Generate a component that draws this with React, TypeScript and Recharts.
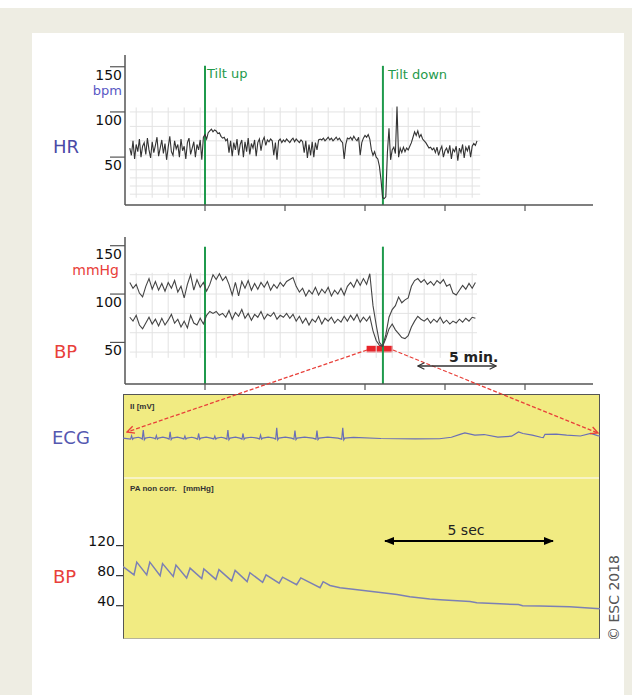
import React from 'react';
import { LineChart, Line, XAxis, YAxis, ReferenceLine, ReferenceArea } from 'recharts';

const FONT = '"DejaVu Sans", Verdana, sans-serif';
const GREEN = '#1f9a4c';
const RED = '#e8403a';
const AXIS = '#555';

// HR trend (bpm), one reading every 0.1 min starting at 0.3 min
const hrStart = 0.3;
const hrStep = 0.1;
const hrValues = [
  60, 52, 68, 48, 64, 56, 70, 50, 62, 66,
  53, 71, 58, 49, 67, 55, 63, 72, 51, 60,
  69, 54, 65, 47, 61, 73, 56, 52, 68, 59,
  64, 50, 70, 57, 62, 48, 66, 71, 53, 60,
  67, 50, 64, 58, 69, 47, 72, 75,
  70, 77, 79, 81, 78, 80, 79, 76, 77, 73, 71, 72, 68, 70,
  55, 68, 51, 66, 58, 70, 52, 64, 69, 50,
  67, 56, 71, 53, 65, 60, 69, 51, 66, 70,
  57, 68, 72, 63, 69, 67, 70, 68,
  52, 66, 47, 68, 70, 66, 69,
  67, 70, 68, 66, 69, 71, 67, 70, 68, 66, 69, 67,
  55, 68, 49, 64, 52, 67, 50, 66, 58, 69, 70,
  69, 71, 68, 70, 72, 69, 71, 68,
  70, 72, 69, 71, 68, 66, 48, 64, 71, 70, 72, 69, 73,
  70, 68, 72, 52, 66, 71, 74, 72, 75, 70,
  58, 52, 56, 50, 48, 40, 25,
  5, 4, 6, 55, 82, 47, 58, 61, 54, 106,
  50, 60, 55, 61, 56, 60, 58, 62, 66, 72,
  78, 74, 79, 72, 75, 70, 68, 66, 63, 60,
  61, 58,
  60, 55, 61, 52, 58, 62, 50, 57, 60, 54,
  63, 48, 59, 56, 62, 46, 60, 55, 64, 49,
  61, 57, 63, 50,
  62, 65, 63, 68,
];

// BP trend (mmHg), systolic and diastolic every 0.2 min starting at 0.3 min
const bpStart = 0.3;
const bpStep = 0.2;
const sbpValues = [
  112, 106, 110, 101, 97, 108, 116, 105, 113, 104,
  111, 103, 112, 106, 114, 102, 108, 96, 110, 120,
  104, 115, 107, 112, 103, 110, 120, 115, 121, 114,
  118, 110, 99, 112, 98, 113, 106, 114, 104, 111,
  105, 112, 107, 113, 104, 110, 106, 112, 108, 113,
  115, 117, 108, 102, 106, 98, 104, 100, 107, 99,
  105, 101, 107, 98, 104, 100, 106, 99, 108, 112,
  107, 115, 109, 116, 110, 121, 88, 68, 50, 46,
  58, 76, 84, 88, 97, 91, 94, 96, 108, 114,
  116, 112, 115, 110, 113, 109, 114, 111, 115, 108,
  110, 101, 99, 104, 109, 105, 111, 106, 112,
];
const dbpValues = [
  76, 72, 78, 68, 64, 70, 76, 69, 74, 67,
  75, 68, 73, 79, 70, 74, 66, 72, 65, 78,
  70, 68, 75, 69, 78, 82, 80, 82, 78, 80,
  76, 83, 74, 81, 77, 84, 75, 80, 73, 79,
  76, 82, 74, 79, 77, 81, 74, 78, 76, 80,
  75, 79, 72, 77, 70, 75, 68, 74, 71, 77,
  69, 75, 72, 76, 70, 74, 71, 77, 72, 78,
  73, 79, 71, 76, 72, 77, 62, 52, 47, 46,
  54, 64, 69, 63, 59, 55, 54, 57, 66, 72,
  77, 74, 72, 75, 70, 74, 71, 76, 70, 73,
  69, 72, 70, 74, 71, 75, 72, 76, 75,
];

const tiltUp = 5;
const tiltDown = 16.12;
const minuteTicks = [5, 10, 15, 20, 25];
const hrTicks = [50, 100, 150];
const bpTicks = [50, 100, 150];
const gridMinutes = [0.7, 1.7, 2.7, 3.7, 4.7, 5.7, 6.7, 7.7, 8.7, 9.7, 10.7, 11.7, 12.7, 13.7, 14.7, 15.7, 16.7, 17.7, 18.7, 19.7, 20.7, 21.7];
const hrGridLevels = [100, 84, 68, 52, 36, 27, 18, 9];
const bpGridLevels = [120, 100, 80, 60, 40];
const zoomWindow = [15.1, 16.75];

// zoomed window, time in seconds: ECG lead II (mV) and arterial pressure (mmHg)
const ecgTrace = [
  [0, 0], [0.22, -0.05], [0.25, 0.11], [0.28, -0.06], [0.31, 0], [0.45, 0.04], [0.52, 0],
  [0.56, -0.05], [0.59, 0.38], [0.62, -0.08], [0.65, 0], [0.78, 0.04], [0.9, 0],
  [0.94, -0.04], [0.97, 0.12], [1.0, -0.05], [1.03, 0], [1.16, 0.05], [1.28, 0],
  [1.34, -0.05], [1.37, 0.3], [1.4, -0.07], [1.43, 0], [1.58, 0.05], [1.7, 0],
  [1.77, -0.04], [1.8, 0.1], [1.83, -0.05], [1.86, 0], [2.0, 0.04], [2.1, 0],
  [2.17, -0.05], [2.2, 0.22], [2.23, -0.06], [2.26, 0], [2.42, 0.05], [2.56, 0],
  [2.64, -0.04], [2.67, 0.1], [2.7, -0.05], [2.73, 0], [2.86, 0.04], [2.96, 0],
  [3.02, -0.05], [3.05, 0.38], [3.08, -0.08], [3.11, 0], [3.27, 0.05], [3.4, 0],
  [3.46, -0.05], [3.49, 0.22], [3.52, -0.06], [3.55, 0], [3.72, 0.04], [3.9, 0],
  [3.97, -0.04], [4.0, 0.14], [4.03, -0.05], [4.06, 0], [4.22, 0.05], [4.38, 0],
  [4.44, -0.05], [4.47, 0.49], [4.5, -0.08], [4.53, 0], [4.72, 0.05], [4.9, 0],
  [4.97, -0.05], [5.0, 0.36], [5.03, -0.07], [5.06, 0], [5.28, 0.05], [5.52, 0],
  [5.61, -0.05], [5.64, 0.36], [5.67, -0.07], [5.7, 0], [5.95, 0.05], [6.25, 0],
  [6.36, -0.05], [6.39, 0.49], [6.42, -0.08], [6.45, 0], [6.7, 0.03], [7.5, -0.02],
  [8.5, -0.04], [9.2, -0.03], [9.55, 0.04], [9.8, 0.18], [9.94, 0.25], [10.23, 0.14],
  [10.5, 0.17], [10.9, 0.05], [11.3, 0.09], [11.5, 0.29], [11.63, 0.22], [11.9, 0.14],
  [12.15, 0.04], [12.22, 0.02], [12.27, 0.18], [12.6, 0.19], [12.9, 0.14], [13.3, 0.1],
  [13.6, 0.22], [13.8, 0.12], [13.87, 0.1],
];
const abpTrace = [
  [0, 92], [0.32, 81], [0.4, 98], [0.69, 81], [0.78, 98], [1.08, 80], [1.15, 96],
  [1.46, 79], [1.54, 94], [1.85, 77], [1.95, 90], [2.29, 76], [2.35, 89], [2.7, 75],
  [2.79, 88], [3.16, 73], [3.26, 87], [3.61, 72], [3.69, 84], [4.06, 71], [4.16, 81],
  [4.54, 70], [4.64, 78], [5.05, 68], [5.17, 77], [5.73, 64], [5.82, 72], [6.02, 67],
  [6.31, 64], [6.69, 62], [7.24, 59], [7.97, 55], [8.34, 52], [8.92, 49], [9.22, 48],
  [10.09, 45.5], [10.29, 44], [10.96, 42.5], [11.5, 41.5], [11.62, 40], [12.12, 39.5],
  [12.99, 38.5], [13.87, 36],
];
const abpTicks = [40, 80, 120];

const hrData = hrValues.map((hr, i) => ({ t: hrStart + i * hrStep, hr }));
const bpData = sbpValues.map((sbp, i) => ({ t: bpStart + i * bpStep, sbp, dbp: dbpValues[i] }));
const ecgData = ecgTrace.map(([t, mv]) => ({ t, mv }));
const abpData = abpTrace.map(([t, p]) => ({ t, p }));

const noTick = () => <g />;

function OverTick({ x, y, payload }: any) {
  return (
    <g>
      <line x1={x - 15} x2={x} y1={y} y2={y} stroke={AXIS} strokeWidth={1.2} />
      <text x={x - 3} y={y + 13} textAnchor="end" fontSize={14} fill="#111" fontFamily={FONT}>
        {payload.value}
      </text>
    </g>
  );
}

function BaseTick({ x, y, payload }: any) {
  return (
    <g>
      <line x1={x - 7} x2={x} y1={y} y2={y} stroke="#333" strokeWidth={1.2} />
      <text x={x - 8} y={y} textAnchor="end" fontSize={14} fill="#111" fontFamily={FONT}>
        {payload.value}
      </text>
    </g>
  );
}

const gridStroke = '#e3e3e3';

export default function App() {
  return (
    <div style={{ position: 'absolute', left: 0, top: 0, width: 632, height: 695, background: '#fff', overflow: 'hidden' }}>
      <div style={{ position: 'absolute', left: 0, top: 8, width: 632, height: 687, background: '#eeede3' }} />
      <div style={{ position: 'absolute', left: 32, top: 33, width: 592, height: 662, background: '#fff' }} />
      <div
        style={{
          position: 'absolute', left: 123, top: 394, width: 477, height: 245, boxSizing: 'border-box',
          background: '#f1eb82', borderTop: '1.5px solid #555', borderLeft: '1.5px solid #555',
          borderRight: '1.5px solid #555', borderBottom: '1.5px solid #b5b39a',
        }}
      />
      <div style={{ position: 'absolute', left: 124, top: 477, width: 475, height: 2, background: '#f7f3c4' }} />

      {/* HR trend */}
      <div style={{ position: 'absolute', left: 0, top: 0 }}>
        <LineChart width={632} height={215} data={hrData} margin={{ top: 55, right: 39, bottom: 0, left: 0 }}>
          <XAxis type="number" dataKey="t" domain={[0, 29.25]} allowDataOverflow ticks={minuteTicks} tick={noTick}
            tickSize={6} height={10} axisLine={{ stroke: AXIS, strokeWidth: 1.5 }} tickLine={{ stroke: AXIS, strokeWidth: 1.2 }} />
          <YAxis type="number" domain={[-3, 163]} allowDataOverflow ticks={hrTicks} interval={0} tick={<OverTick />}
            width={125} tickSize={0} tickMargin={0} tickLine={false} axisLine={{ stroke: AXIS, strokeWidth: 1.5 }} />
          {gridMinutes.map((m) => (
            <ReferenceLine key={'v' + m} segment={[{ x: m, y: 5 }, { x: m, y: 105 }]} stroke={gridStroke} />
          ))}
          {hrGridLevels.map((v) => (
            <ReferenceLine key={'h' + v} segment={[{ x: 0.3, y: v }, { x: 22.2, y: v }]} stroke={gridStroke} />
          ))}
          <ReferenceLine segment={[{ x: tiltUp, y: -3 }, { x: tiltUp, y: 151 }]} stroke={GREEN} strokeWidth={2} />
          <ReferenceLine segment={[{ x: tiltDown, y: -3 }, { x: tiltDown, y: 151 }]} stroke={GREEN} strokeWidth={2} />
          <Line type="linear" dataKey="hr" stroke="#333" strokeWidth={1.1} dot={false} isAnimationActive={false} />
        </LineChart>
      </div>

      {/* BP trend */}
      <div style={{ position: 'absolute', left: 0, top: 225 }}>
        <LineChart width={632} height={170} data={bpData} margin={{ top: 12, right: 39, bottom: 0, left: 0 }}>
          <XAxis type="number" dataKey="t" domain={[0, 29.25]} allowDataOverflow ticks={minuteTicks} tick={noTick}
            tickSize={6} height={11} axisLine={{ stroke: AXIS, strokeWidth: 1.5 }} tickLine={{ stroke: AXIS, strokeWidth: 1.2 }} />
          <YAxis type="number" domain={[7, 159]} allowDataOverflow ticks={bpTicks} interval={0} tick={<OverTick />}
            width={125} tickSize={0} tickMargin={0} tickLine={false} axisLine={{ stroke: AXIS, strokeWidth: 1.5 }} />
          {gridMinutes.map((m) => (
            <ReferenceLine key={'v' + m} segment={[{ x: m, y: 34 }, { x: m, y: 122 }]} stroke={gridStroke} />
          ))}
          {bpGridLevels.map((v) => (
            <ReferenceLine key={'h' + v} segment={[{ x: 0.3, y: v }, { x: 22, y: v }]} stroke={gridStroke} />
          ))}
          <ReferenceLine segment={[{ x: tiltUp, y: 7 }, { x: tiltUp, y: 149 }]} stroke={GREEN} strokeWidth={2} />
          <ReferenceLine segment={[{ x: tiltDown, y: 7 }, { x: tiltDown, y: 149 }]} stroke={GREEN} strokeWidth={2} />
          <Line type="linear" dataKey="sbp" stroke="#444" strokeWidth={1.1} dot={false} isAnimationActive={false} />
          <Line type="linear" dataKey="dbp" stroke="#444" strokeWidth={1.1} dot={false} isAnimationActive={false} />
          <ReferenceArea x1={zoomWindow[0]} x2={zoomWindow[1]} y1={39.5} y2={46.5} fill="#e8242a" fillOpacity={1} stroke="none" />
        </LineChart>
      </div>

      {/* ECG */}
      <div style={{ position: 'absolute', left: 0, top: 394 }}>
        <LineChart width={632} height={84} data={ecgData} margin={{ top: 0, right: 32, bottom: 0, left: 123 }}>
          <XAxis type="number" dataKey="t" domain={[0, 13.87]} allowDataOverflow hide />
          <YAxis type="number" domain={[-1.9, 2.1]} allowDataOverflow hide />
          <Line type="linear" dataKey="mv" stroke="#6a6fb6" strokeWidth={1.2} dot={false} isAnimationActive={false} />
        </LineChart>
      </div>

      {/* arterial pressure */}
      <div style={{ position: 'absolute', left: 0, top: 478 }}>
        <LineChart width={632} height={160} data={abpData} margin={{ top: 0, right: 32, bottom: 0, left: 0 }}>
          <XAxis type="number" dataKey="t" domain={[0, 13.87]} allowDataOverflow hide />
          <YAxis type="number" domain={[-3, 210]} allowDataOverflow ticks={abpTicks} interval={0} tick={<BaseTick />}
            width={123} tickSize={0} tickMargin={0} tickLine={false} axisLine={false} />
          <Line type="linear" dataKey="p" stroke="#7c80b4" strokeWidth={1.5} dot={false} isAnimationActive={false} />
        </LineChart>
      </div>

      <svg width={632} height={695} style={{ position: 'absolute', left: 0, top: 0, pointerEvents: 'none' }} fontFamily={FONT}>
        <defs>
          <marker id="redHead" viewBox="0 0 10 10" refX={9} refY={5} markerWidth={9} markerHeight={9} markerUnits="userSpaceOnUse" orient="auto">
            <path d="M1,1 L9,5 L1,9" fill="none" stroke={RED} strokeWidth={1.5} strokeDasharray="none" />
          </marker>
          <marker id="openHead" viewBox="0 0 10 10" refX={9} refY={5} markerWidth={8} markerHeight={8} markerUnits="userSpaceOnUse" orient="auto-start-reverse">
            <path d="M1,1 L9,5 L1,9" fill="none" stroke="#333" strokeWidth={1.4} />
          </marker>
          <marker id="solidHead" viewBox="0 0 10 10" refX={9} refY={5} markerWidth={10} markerHeight={10} markerUnits="userSpaceOnUse" orient="auto-start-reverse">
            <path d="M0,1 L10,5 L0,9 z" fill="#000" />
          </marker>
        </defs>

        <line x1={367} y1={350} x2={127} y2={432} stroke={RED} strokeWidth={1.3} strokeDasharray="4 2" markerEnd="url(#redHead)" />
        <line x1={393} y1={350} x2={598} y2={433} stroke={RED} strokeWidth={1.3} strokeDasharray="4 2" markerEnd="url(#redHead)" />

        <line x1={418} y1={366} x2={496} y2={366} stroke="#333" strokeWidth={1.3} markerStart="url(#openHead)" markerEnd="url(#openHead)" />
        <text x={449} y={362} fontSize={14} fontWeight="bold" fill="#222">5 min.</text>

        <line x1={385} y1={541} x2={553} y2={541} stroke="#000" strokeWidth={2} markerStart="url(#solidHead)" markerEnd="url(#solidHead)" />
        <text x={466} y={535} fontSize={14} fill="#222" textAnchor="middle">5 sec</text>

        <text x={53} y={153} fontSize={18} fill="#4a4aa6">HR</text>
        <text x={122} y={95} fontSize={13} fill="#5858c4" textAnchor="end">bpm</text>
        <text x={119} y={275} fontSize={14} fill={RED} textAnchor="end">mmHg</text>
        <text x={54} y={358} fontSize={18} fill={RED}>BP</text>
        <text x={207} y={78} fontSize={13} fill={GREEN}>Tilt up</text>
        <text x={388} y={79} fontSize={13} fill={GREEN}>Tilt down</text>

        <text x={52} y={444} fontSize={18} fill="#5558b0">ECG</text>
        <text x={53} y={583} fontSize={18} fill={RED}>BP</text>
        <text x={130} y={409} fontSize={8} fontWeight="bold" fill="#333" fontFamily='"Liberation Sans", Arial, sans-serif'>II   [mV]</text>
        <text x={130} y={491} fontSize={8} fontWeight="bold" fill="#333" fontFamily='"Liberation Sans", Arial, sans-serif' xmlSpace="preserve">PA non corr.   [mmHg]</text>

        <text transform="translate(619, 598) rotate(-90)" fontSize={14} fill="#555" textAnchor="middle">© ESC 2018</text>
      </svg>
    </div>
  );
}
